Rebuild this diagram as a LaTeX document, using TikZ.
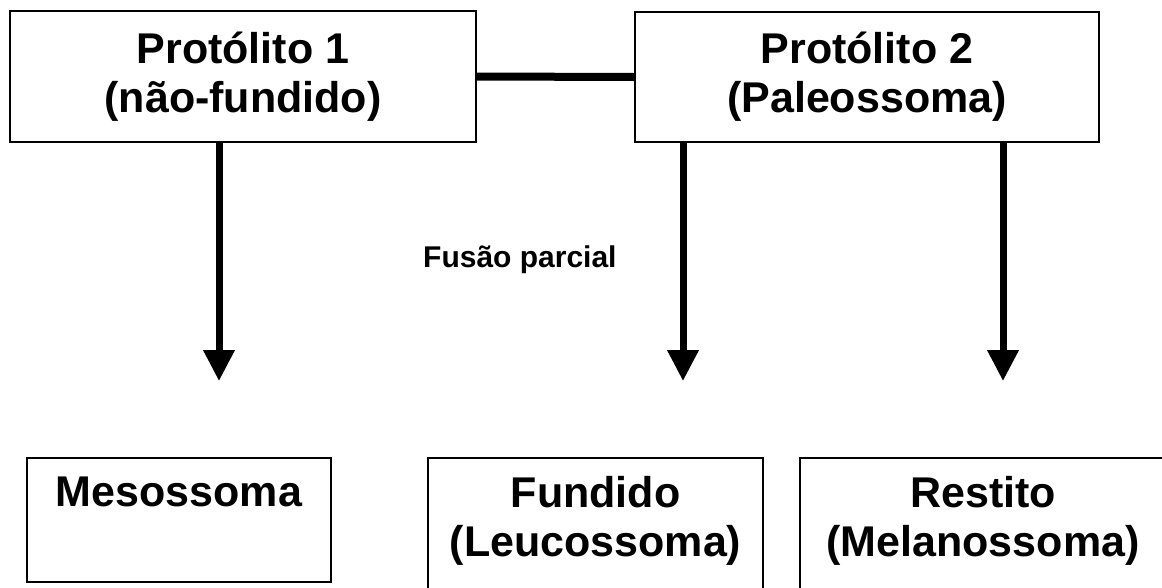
\documentclass[tikz,border=0pt]{standalone}
\usepackage{fontspec}
\setmainfont{Liberation Sans}
\usetikzlibrary{arrows.meta}

\begin{document}
\begin{tikzpicture}[x=1pt, y=-1pt,
	box/.style={draw, line width=2pt, inner sep=0pt},
	big/.style={font=\fontsize{43}{49}\selectfont\bfseries, align=center, inner sep=0pt},
	small/.style={font=\fontsize{30}{36}\selectfont\bfseries, inner sep=0pt},
	arr/.style={line width=7pt, -{Triangle[width=30pt, length=31pt]}},
	link/.style={line width=8pt}]
	\useasboundingbox (0, 0) rectangle (1162, 587);
	\clip (0, 0) rectangle (1162, 587);
	% protoliths
	\node[box, big, minimum width=466pt, minimum height=131pt] (P1) at (243, 76.5) {Protólito 1\\(não-fundido)};
	\node[box, big, minimum width=464pt, minimum height=130pt] (P2) at (867, 77) {Protólito 2\\(Paleossoma)};
	\draw[link] (P1.east) -- (P2.west);
	% products
	\node[box, minimum width=304pt, minimum height=124pt] (M) at (179, 520) {};
	\node[box, minimum width=335pt, minimum height=142pt] (F) at (595.5, 529) {};
	\node[box, minimum width=366pt, minimum height=142pt] (R) at (983, 529) {};
	\node[big, anchor=north] (Mt) at ([yshift=-20pt]M.north) {Mesossoma};
	\node[big, anchor=north] (Ft) at ([yshift=-19pt]F.north) {Fundido\\(Leucossoma)};
	\node[big, anchor=north] (Rt) at ([yshift=-19pt]R.north) {Restito\\(Melanossoma)};
	% arrows
	\coordinate (e1) at (219, 381);
	\coordinate (e2) at (683, 381);
	\coordinate (e3) at (1003, 381);
	\draw[arr] (P1.south -| e1) -- (e1);
	\draw[arr] (P2.south -| e2) -- (e2);
	\draw[arr] (P2.south -| e3) -- (e3);
	\node[small, anchor=base west] (fus) at (423, 267) {Fusão parcial};
\end{tikzpicture}
\end{document}
